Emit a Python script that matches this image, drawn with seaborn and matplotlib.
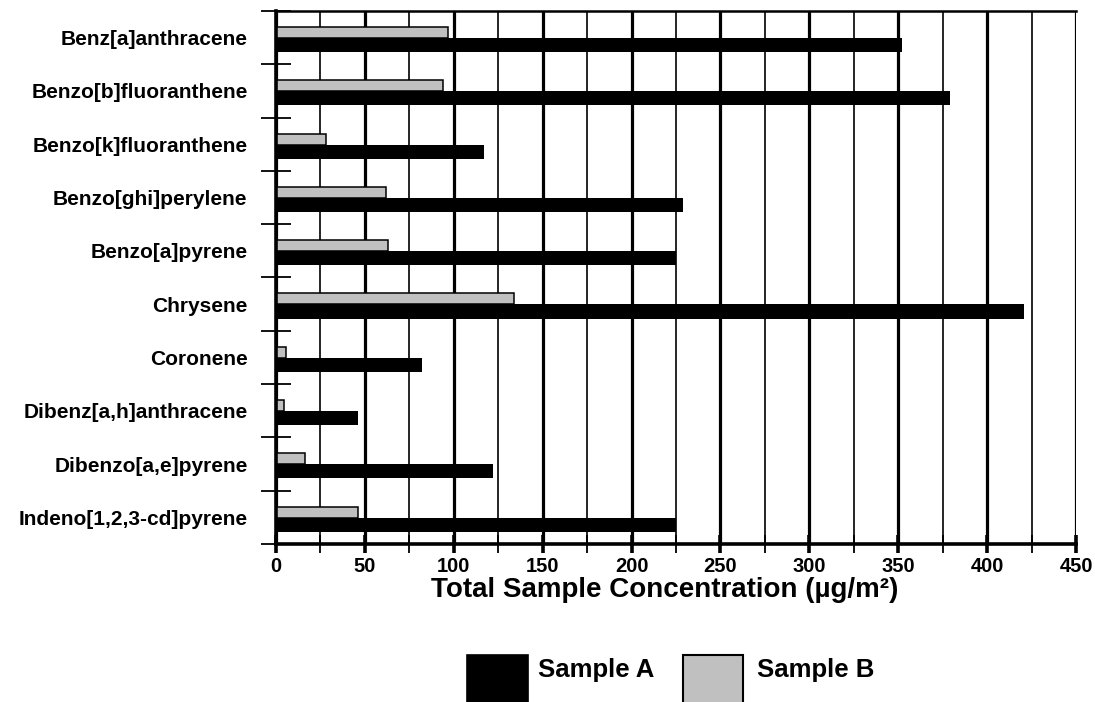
import matplotlib
matplotlib.use("Agg")
import matplotlib.pyplot as plt
from matplotlib.ticker import MultipleLocator, FixedLocator, NullFormatter
from matplotlib.patches import Rectangle
import seaborn as sns
import pandas as pd
import numpy as np

compounds = ["Benz[a]anthracene", "Benzo[b]fluoranthene", "Benzo[k]fluoranthene",
             "Benzo[ghi]perylene", "Benzo[a]pyrene", "Chrysene", "Coronene",
             "Dibenz[a,h]anthracene", "Dibenzo[a,e]pyrene", "Indeno[1,2,3-cd]pyrene"]
sample_a = [352, 379, 117, 229, 225, 421, 82, 46, 122, 225]
sample_b = [97, 94, 28, 62, 63, 134, 5.6, 4.5, 16.5, 46]
series_names = ["Sample A", "Sample B"]
colors = {"Sample A": "#000000", "Sample B": "#C0C0C0"}
x_label = "Total Sample Concentration (µg/m²)"

df = pd.DataFrame({
    "compound": compounds * 2,
    "value": sample_a + sample_b,
    "sample": ["Sample A"] * len(compounds) + ["Sample B"] * len(compounds),
})

sns.set_style("white")
plt.rcParams["font.family"] = ["Liberation Sans", "DejaVu Sans"]
plt.rcParams["font.weight"] = "bold"
for key in ["text.color", "axes.labelcolor", "xtick.color", "ytick.color",
            "xtick.labelcolor", "ytick.labelcolor"]:
    plt.rcParams[key] = "black"

W, H = 1095, 702
fig = plt.figure(figsize=(W / 100, H / 100), dpi=100)
ax = fig.add_axes([276 / W, 1 - 544 / H, (1076 - 276) / W, (544 - 11) / H])

sns.barplot(data=df, y="compound", x="value", hue="sample",
            hue_order=["Sample B", "Sample A"], order=compounds,
            palette=colors, orient="h", width=0.47, dodge=True,
            edgecolor="black", linewidth=1.1, saturation=1, ax=ax,
            legend=False, errorbar=None)

# adjust bar thickness per series (gray thinner, black thicker)
for p in ax.patches:
    fc = p.get_facecolor()
    y0, h = p.get_y(), p.get_height()
    if fc[0] > 0.5:  # gray (Sample B), sits above centre
        c = y0 + h  # category centre
        p.set_y(c - 0.200)
        p.set_height(0.206)
    else:  # black (Sample A), sits below centre
        c = y0
        p.set_y(c + 0.006)
        p.set_height(0.264)
        p.set_linewidth(0)

ax.set_xlim(0, 450)
ax.set_ylim(len(compounds) - 0.5, -0.5)

ax.xaxis.set_major_locator(MultipleLocator(50))
ax.xaxis.set_minor_locator(MultipleLocator(25))
ax.grid(which="major", axis="x", color="black", lw=2.3)
ax.grid(which="minor", axis="x", color="black", lw=1.2)
ax.grid(which="both", axis="y", visible=False)
ax.set_axisbelow(True)

ax.yaxis.set_minor_locator(FixedLocator(np.arange(-0.5, len(compounds), 1.0)))
ax.yaxis.set_minor_formatter(NullFormatter())

ax.tick_params(axis="y", which="major", length=0, pad=20.5, labelsize=15,
               labelcolor="black")
ax.tick_params(axis="y", which="minor", direction="inout", length=21, width=1.3,
               color="black", left=True)
ax.tick_params(axis="x", which="major", direction="inout", length=13, width=2.6,
               color="black", bottom=True, labelsize=14.5, pad=2.5, labelcolor="black")
ax.tick_params(axis="x", which="minor", direction="inout", length=13, width=1.3,
               color="black", bottom=True)
for lbl in ax.get_yticklabels() + ax.get_xticklabels():
    lbl.set_fontweight("bold")

for side in ["left", "bottom"]:
    ax.spines[side].set_linewidth(2.6)
    ax.spines[side].set_color("black")
ax.spines["top"].set_linewidth(1.8)
ax.spines["top"].set_color("black")
ax.spines["right"].set_visible(False)

ax.set_ylabel("")
ax.set_xlabel(x_label, fontsize=20, fontweight="bold", color="black")
ax.xaxis.set_label_coords((665 - 276) / 800, -(590 - 544) / 533)
ax.xaxis.label.set_va("center")

# legend drawn in figure space
def fx(px):
    return px / W

def fy(py):
    return 1 - py / H

fig.add_artist(Rectangle((fx(467), fy(716)), 61 / W, 61 / H, transform=fig.transFigure,
                         facecolor=colors["Sample A"], edgecolor="black", lw=1.2))
fig.text(fx(538), fy(670), series_names[0], fontsize=18.5, fontweight="bold",
         va="center", ha="left", color="black")
fig.add_artist(Rectangle((fx(683), fy(716)), 60 / W, 61 / H, transform=fig.transFigure,
                         facecolor=colors["Sample B"], edgecolor="black", lw=1.5))
fig.text(fx(757), fy(670), series_names[1], fontsize=18.5, fontweight="bold",
         va="center", ha="left", color="black")

fig.savefig("out.png", dpi=100)
